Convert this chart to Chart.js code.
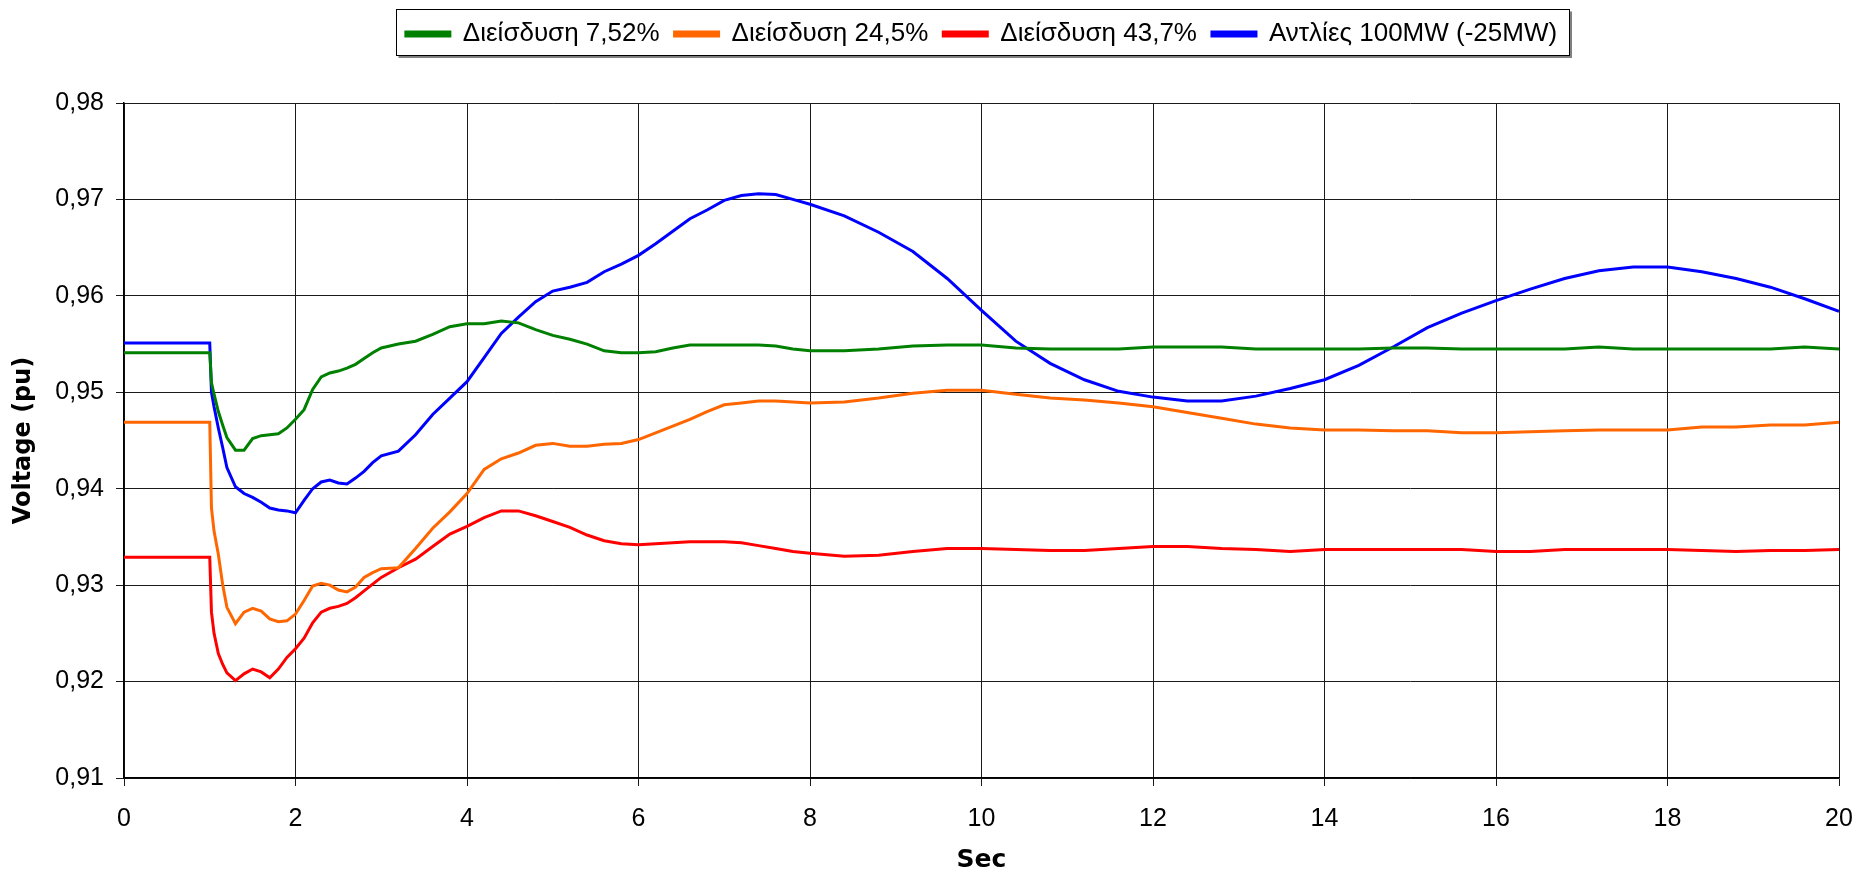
<!DOCTYPE html>
<html>
<head>
<meta charset="utf-8">
<script src="https://cdn.jsdelivr.net/npm/chart.js@4"></script>
<style>
  html, body { margin: 0; padding: 0; background: #fff; }
  canvas { display: block; }
</style>
</head>
<body>
<canvas id="voltage-chart" width="1857" height="874"></canvas>
<script>
// time axis (sec), shared by all series
const timeSec = [
    0, 1.0, 1.02, 1.05, 1.1, 1.15, 1.2, 1.3, 1.4, 1.5, 1.6, 1.7, 1.8, 1.9,
    2.0, 2.1, 2.2, 2.3, 2.4, 2.5, 2.6, 2.7, 2.8, 2.9, 3.0, 3.2, 3.4, 3.6, 3.8,
    4.0, 4.2, 4.4, 4.6, 4.8, 5.0, 5.2, 5.4, 5.6, 5.8, 6.0, 6.2, 6.4, 6.6, 6.8,
    7.0, 7.2, 7.4, 7.6, 7.8, 8.0, 8.4, 8.8, 9.2, 9.6, 10.0, 10.4, 10.8, 11.2,
    11.6, 12.0, 12.4, 12.8, 13.2, 13.6, 14.0, 14.4, 14.8, 15.2, 15.6, 16.0,
    16.4, 16.8, 17.2, 17.6, 18.0, 18.4, 18.8, 19.2, 19.6, 20.0
];

const seriesLabels = ['Διείσδυση 7,52%', 'Διείσδυση 24,5%', 'Διείσδυση 43,7%', 'Αντλίες 100MW (-25MW)'];
const seriesColors = ['#008000', '#FF6600', '#FF0000', '#0000FF'];

const pen752 = [
    0.9541, 0.9541, 0.9510, 0.9498, 0.9480, 0.9466, 0.9453, 0.9440, 0.9440, 0.9452, 0.9455, 0.9456, 0.9457, 0.9463,
    0.9472, 0.9482, 0.9503, 0.9516, 0.9520, 0.9522, 0.9525, 0.9529, 0.9535, 0.9541, 0.9546, 0.9550, 0.9553, 0.9560, 0.9568,
    0.9571, 0.9571, 0.9574, 0.9572, 0.9565, 0.9559, 0.9555, 0.9550, 0.9543, 0.9541, 0.9541, 0.9542, 0.9546, 0.9549, 0.9549,
    0.9549, 0.9549, 0.9549, 0.9548, 0.9545, 0.9543, 0.9543, 0.9545, 0.9548, 0.9549, 0.9549, 0.9546, 0.9545, 0.9545,
    0.9545, 0.9547, 0.9547, 0.9547, 0.9545, 0.9545, 0.9545, 0.9545, 0.9546, 0.9546, 0.9545, 0.9545,
    0.9545, 0.9545, 0.9547, 0.9545, 0.9545, 0.9545, 0.9545, 0.9545, 0.9547, 0.9545
];

const pen245 = [
    0.9469, 0.9469, 0.9380, 0.9356, 0.9332, 0.9301, 0.9277, 0.9260, 0.9272, 0.9276, 0.9273, 0.9265, 0.9262, 0.9263,
    0.9270, 0.9284, 0.9299, 0.9302, 0.9300, 0.9295, 0.9293, 0.9298, 0.9308, 0.9313, 0.9317, 0.9318, 0.9338, 0.9359, 0.9376,
    0.9395, 0.9420, 0.9431, 0.9437, 0.9445, 0.9447, 0.9444, 0.9444, 0.9446, 0.9447, 0.9451, 0.9458, 0.9465, 0.9472, 0.9480,
    0.9487, 0.9489, 0.9491, 0.9491, 0.9490, 0.9489, 0.9490, 0.9494, 0.9499, 0.9502, 0.9502, 0.9498, 0.9494, 0.9492,
    0.9489, 0.9485, 0.9479, 0.9473, 0.9467, 0.9463, 0.9461, 0.9461, 0.9460, 0.9460, 0.9458, 0.9458,
    0.9459, 0.9460, 0.9461, 0.9461, 0.9461, 0.9464, 0.9464, 0.9466, 0.9466, 0.9469
];

const pen437 = [
    0.9329, 0.9329, 0.9272, 0.9250, 0.9229, 0.9218, 0.9209, 0.9201, 0.9208, 0.9213, 0.9210, 0.9204, 0.9213, 0.9225,
    0.9234, 0.9245, 0.9261, 0.9272, 0.9276, 0.9278, 0.9281, 0.9287, 0.9294, 0.9301, 0.9308, 0.9318, 0.9327, 0.9340, 0.9353,
    0.9361, 0.9370, 0.9377, 0.9377, 0.9372, 0.9366, 0.9360, 0.9352, 0.9346, 0.9343, 0.9342, 0.9343, 0.9344, 0.9345, 0.9345,
    0.9345, 0.9344, 0.9341, 0.9338, 0.9335, 0.9333, 0.9330, 0.9331, 0.9335, 0.9338, 0.9338, 0.9337, 0.9336, 0.9336,
    0.9338, 0.9340, 0.9340, 0.9338, 0.9337, 0.9335, 0.9337, 0.9337, 0.9337, 0.9337, 0.9337, 0.9335,
    0.9335, 0.9337, 0.9337, 0.9337, 0.9337, 0.9336, 0.9335, 0.9336, 0.9336, 0.9337
];

const pumps100 = [
    0.9551, 0.9551, 0.9500, 0.9485, 0.9463, 0.9443, 0.9422, 0.9402, 0.9395, 0.9391, 0.9386, 0.9380, 0.9378, 0.9377,
    0.9375, 0.9388, 0.9400, 0.9407, 0.9409, 0.9406, 0.9405, 0.9411, 0.9418, 0.9427, 0.9434, 0.9439, 0.9456, 0.9477, 0.9494,
    0.9511, 0.9536, 0.9561, 0.9578, 0.9594, 0.9605, 0.9609, 0.9614, 0.9625, 0.9633, 0.9642, 0.9654, 0.9667, 0.9680, 0.9689,
    0.9699, 0.9704, 0.9706, 0.9705, 0.9700, 0.9695, 0.9683, 0.9666, 0.9646, 0.9618, 0.9585, 0.9553, 0.9530, 0.9513,
    0.9501, 0.9495, 0.9491, 0.9491, 0.9496, 0.9504, 0.9513, 0.9528, 0.9547, 0.9567, 0.9582, 0.9595,
    0.9607, 0.9618, 0.9626, 0.9630, 0.9630, 0.9625, 0.9618, 0.9609, 0.9597, 0.9584
];

const yMin = 0.91, yMax = 0.98, yStep = 0.01;
const xMin = 0, xMax = 20, xStep = 2;

const FONT = '"Liberation Sans", Arial, sans-serif';
const TITLE_FONT = '"DejaVu Sans", "Liberation Sans", sans-serif';

function toPoints(values) {
    return values.map((v, i) => ({x: timeSec[i], y: v}));
}

const allSeries = [pen752, pen245, pen437, pumps100];

const datasets = allSeries.map((vals, i) => ({
    label: seriesLabels[i],
    data: toPoints(vals),
    borderColor: seriesColors[i],
    backgroundColor: seriesColors[i],
    borderWidth: 3,
    pointRadius: 0,
    tension: 0,
    fill: false
}));

// legend height hack + box around legend items
const legendBoxPlugin = {
    id: 'legendBox',
    beforeLayout(chart) {
        const lg = chart.legend;
        if (lg && !lg._patched) {
            const origFit = lg.fit;
            lg.fit = function () {
                origFit.call(this);
                this.height = 97;
            };
            lg._patched = true;
        }
    },
    afterDraw(chart) {
        const boxes = chart.legend && chart.legend.legendHitBoxes;
        if (!boxes || !boxes.length) return;
        let left = Infinity, right = -Infinity;
        boxes.forEach(b => {
            left = Math.min(left, b.left);
            right = Math.max(right, b.left + b.width);
        });
        const x0 = Math.round(left - 10) + 0.5;
        const x1 = Math.round(right + 12) + 0.5;
        const y0 = 9.5, y1 = 55.5;
        const ctx = chart.ctx;
        ctx.save();
        // shadow
        ctx.strokeStyle = '#808080';
        ctx.lineWidth = 2;
        ctx.beginPath();
        ctx.moveTo(x0 + 2, y1 + 1.5);
        ctx.lineTo(x1 + 1.5, y1 + 1.5);
        ctx.lineTo(x1 + 1.5, y0 + 2);
        ctx.stroke();
        ctx.strokeStyle = '#000';
        ctx.lineWidth = 1;
        ctx.strokeRect(x0, y0, x1 - x0, y1 - y0);
        ctx.restore();
    }
};

const ctx = document.getElementById('voltage-chart').getContext('2d');
const chart = new Chart(ctx, {
    type: 'line',
    data: {datasets: datasets},
    plugins: [legendBoxPlugin],
    options: {
        responsive: false,
        animation: false,
        events: [],
        layout: {padding: {top: 6, right: 18, left: 0, bottom: 0}},
        plugins: {
            legend: {
                display: true,
                position: 'top',
                fullSize: false,
                labels: {
                    color: '#000',
                    font: {family: FONT, size: 26},
                    boxWidth: 44,
                    boxHeight: 4,
                    padding: 15
                }
            },
            tooltip: {enabled: false}
        },
        scales: {
            x: {
                type: 'linear',
                min: xMin,
                max: xMax,
                afterFit: (scale) => {
                    scale.height = 96;
                    scale.paddingLeft = 0;
                    scale.paddingRight = 0;
                },
                ticks: {
                    stepSize: xStep,
                    color: '#000',
                    font: {family: FONT, size: 25},
                    padding: 18,
                    maxRotation: 0
                },
                grid: {color: '#1a1a1a', lineWidth: 1, tickLength: 8, tickColor: '#1a1a1a'},
                border: {color: '#000', width: 1.5},
                title: {
                    display: true,
                    text: 'Sec',
                    color: '#000',
                    font: {family: TITLE_FONT, size: 25, weight: 'bold', lineHeight: 1},
                    padding: {top: 0, bottom: 1}
                }
            },
            y: {
                type: 'linear',
                min: yMin,
                max: yMax,
                afterFit: (scale) => {
                    scale.width = 124;
                    scale.paddingTop = 0;
                    scale.paddingBottom = 0;
                },
                ticks: {
                    stepSize: yStep,
                    color: '#000',
                    font: {family: FONT, size: 25},
                    padding: 12,
                    callback: (v) => v.toFixed(2).replace('.', ',')
                },
                grid: {color: '#1a1a1a', lineWidth: 1, tickLength: 8, tickColor: '#1a1a1a'},
                border: {color: '#000', width: 1.5},
                title: {
                    display: true,
                    text: 'Voltage (pu)',
                    color: '#000',
                    font: {family: TITLE_FONT, size: 24, weight: 'bold', lineHeight: 1.2},
                    padding: {top: 9, bottom: 4}
                }
            }
        }
    }
});
</script>
</body>
</html>
